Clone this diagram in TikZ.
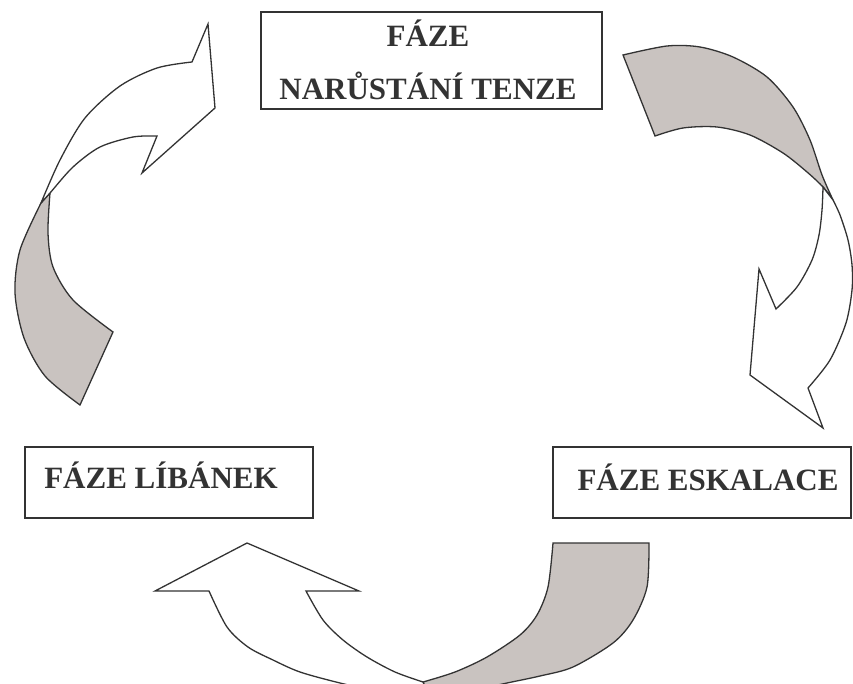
\documentclass[tikz,border=0pt]{standalone}
\usepackage{fontspec}
\setmainfont{Liberation Serif}
\definecolor{ink}{HTML}{333333}
\definecolor{shade}{RGB}{201,195,192}
\begin{document}
\begin{tikzpicture}[x=1pt,y=-1pt,
  box/.style={draw=ink, line width=1.5pt, inner sep=0pt},
  lbl/.style={text=ink, font=\fontsize{31}{31}\selectfont\bfseries, anchor=base, inner sep=0pt},
  band/.style={draw=ink, line width=1.3pt, line join=miter},
  back/.style={band, fill=shade},
  front/.style={band, fill=white}]
\useasboundingbox (0,0) rectangle (853,684);
\clip (0,0) rectangle (853,684);

% boxes
\node[box, minimum width=341pt, minimum height=97pt] (topbox) at (431.5,60.5) {};
\node[box, minimum width=288pt, minimum height=71pt] (leftbox) at (169,482.5) {};
\node[box, minimum width=298pt, minimum height=71pt] (rightbox) at (702,482.5) {};

\node[lbl] (t1) at (428,47) {FÁZE};
\node[lbl] (t2) at (428,100) {NARŮSTÁNÍ TENZE};
\node[lbl] (t3) at (161,488) {FÁZE LÍBÁNEK};
\node[lbl] (t4) at (708,490) {FÁZE ESKALACE};

% left arrow
\filldraw[back] plot[smooth] coordinates {(80,405) (45,376) (24,338) (15,293) (20,250) (41,203)}
  -- (50,193) -- plot[smooth] coordinates {(50,193) (48,233) (53,267) (73,300) (113,332)} -- cycle;
\filldraw[front] plot[smooth] coordinates {(41,203) (60,160) (85,118) (120,86) (157,68) (192,62)}
  -- (208,24) -- (215,108) -- (142,173) -- (157,136)
  -- plot[smooth] coordinates {(157,136) (133,137) (100,147) (73,167) (50,193) (41,203)} -- cycle;

% right arrow
\filldraw[back] (623,55) -- plot[smooth] coordinates {(623,55) (667,46) (700,47) (733,57) (767,77) (793,107) (810,140) (822,175) (833,200)}
  -- plot[smooth] coordinates {(833,200) (823,187) (807,172) (783,153) (750,135) (717,127) (683,128) (655,136)} -- cycle;
\filldraw[front] plot[smooth] coordinates {(833,200) (840,215) (848,240) (852,265) (852,290) (846,323) (830,360) (808,388)}
  -- (823,428) -- (750,375) -- (759,269) -- (776,309)
  -- plot[smooth] coordinates {(776,309) (797,287) (812,260) (819,235) (822,210) (823,187)} -- cycle;

% bottom arrow
\filldraw[back] (553,543) -- (649,543)
  -- plot[smooth] coordinates {(649,543) (647,587) (633,620) (613,643) (573,667) (540,676) (507,683) (470,691) (430,699)}
  -- (423,682)
  -- plot[smooth] coordinates {(423,682) (455,672) (487,657) (520,635) (537,615) (548,587) (553,543)} -- cycle;
\filldraw[front] (247,543) -- (359,591) -- (306,591)
  -- plot[smooth] coordinates {(306,591) (323,620) (343,640) (367,657) (395,672) (423,682)}
  -- (430,699)
  -- plot[smooth] coordinates {(430,699) (385,693) (340,683) (300,672) (273,660) (248,647) (227,627) (209,591)}
  -- (155,591) -- cycle;
\end{tikzpicture}
\end{document}
